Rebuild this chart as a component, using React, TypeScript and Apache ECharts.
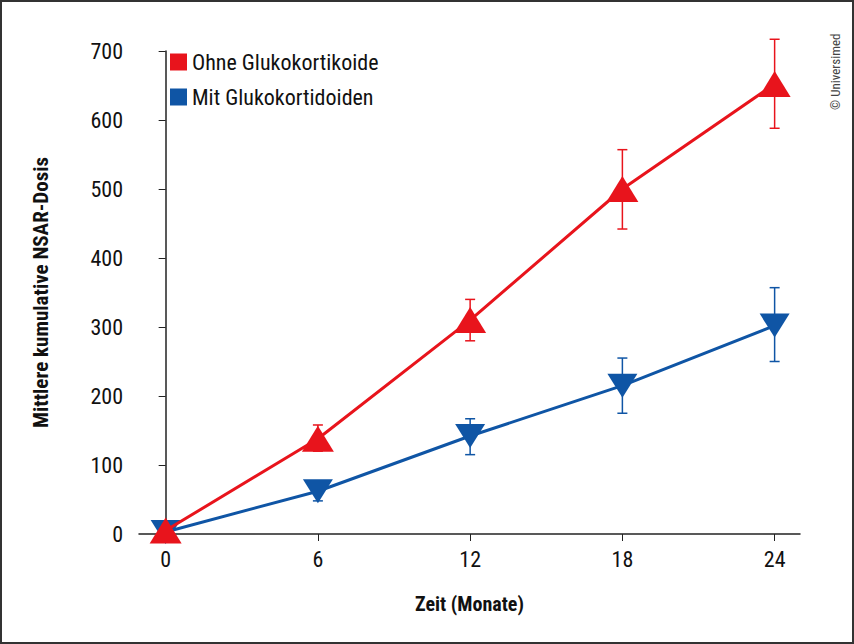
import { useEffect, useRef } from "react";
import * as echarts from "echarts";

const months = [0, 6, 12, 18, 24];
const ohneMean = [5, 138, 310, 500, 652];
const ohneLow = [5, 120, 280, 442, 588];
const ohneHigh = [5, 158, 340, 557, 717];
const mitMean = [3, 62, 142, 215, 302];
const mitLow = [3, 48, 115, 175, 250];
const mitHigh = [3, 77, 167, 255, 357];

const RED = "#e8141c";
const BLUE = "#0f55a5";
const FONT = "'Liberation Sans Narrow', 'Roboto Condensed', 'Arial Narrow', sans-serif";

const errSeries = (low: number[], high: number[], color: string) => ({
  type: "custom",
  z: 1,
  silent: true,
  data: months.map((m, i) => [m, low[i], high[i]]),
  renderItem: (_p: any, api: any) => {
    const lo = api.coord([api.value(0), api.value(1)]);
    const hi = api.coord([api.value(0), api.value(2)]);
    const w = 5;
    const style = { stroke: color, lineWidth: 1.5 };
    return {
      type: "group",
      children: [
        { type: "line", shape: { x1: lo[0], y1: lo[1], x2: hi[0], y2: hi[1] }, style },
        { type: "line", shape: { x1: lo[0] - w, y1: lo[1], x2: lo[0] + w, y2: lo[1] }, style },
        { type: "line", shape: { x1: hi[0] - w, y1: hi[1], x2: hi[0] + w, y2: hi[1] }, style },
      ],
    };
  },
});

export default function App() {
  const ref = useRef<HTMLDivElement | null>(null);

  useEffect(() => {
    if (!ref.current) return;
    const chart = echarts.init(ref.current, null, { renderer: "svg" });
    chart.setOption({
      animation: false,
      textStyle: { fontFamily: FONT },
      grid: { left: 137, right: 52, top: 49, bottom: 108 },
      legend: {
        orient: "vertical",
        left: 163,
        top: 44,
        icon: "rect",
        itemWidth: 17,
        itemHeight: 17,
        itemGap: 13,
        textStyle: { fontSize: 22, color: "#111", fontFamily: FONT },
        data: ["Ohne Glukokortikoide", "Mit Glukokortidoiden"],
      },
      xAxis: {
        type: "value",
        min: -1.05,
        max: 25,
        name: "Zeit (Monate)",
        nameLocation: "middle",
        nameGap: 60,
        nameTextStyle: { fontSize: 20, fontWeight: "bold", color: "#111", fontFamily: FONT },
        splitLine: { show: false },
        axisLine: { lineStyle: { color: "#222", width: 1.5 } },
        axisTick: { customValues: months, length: 7, lineStyle: { color: "#222" } },
        axisLabel: { customValues: months, fontSize: 22, color: "#111", margin: 14 },
      },
      yAxis: {
        type: "value",
        min: 0,
        max: 700,
        interval: 100,
        name: "Mittlere kumulative NSAR-Dosis",
        nameLocation: "middle",
        nameGap: 88,
        nameTextStyle: { fontSize: 21, fontWeight: "bold", color: "#111", fontFamily: FONT },
        splitLine: { show: false },
        axisLine: { show: true, lineStyle: { color: "#222", width: 1.5 } },
        axisTick: { show: true, length: 7, lineStyle: { color: "#222" } },
        axisLabel: { fontSize: 22, color: "#111", margin: 16 },
      },
      graphic: [
        {
          type: "text",
          x: 833,
          y: 108,
          rotation: Math.PI / 2,
          style: { text: "© Universimed", fontSize: 13, fill: "#444", fontFamily: FONT, align: "left", verticalAlign: "middle" },
        },
      ],
      series: [
        errSeries(ohneLow, ohneHigh, RED),
        errSeries(mitLow, mitHigh, BLUE),
        {
          name: "Mit Glukokortidoiden",
          type: "line",
          z: 3,
          data: months.map((m, i) => [m, mitMean[i]]),
          symbol: "triangle",
          symbolRotate: 180,
          symbolSize: [30, 24],
          lineStyle: { color: BLUE, width: 3 },
          itemStyle: { color: BLUE },
        },
        {
          name: "Ohne Glukokortikoide",
          type: "line",
          z: 4,
          data: months.map((m, i) => [m, ohneMean[i]]),
          symbol: "triangle",
          symbolSize: [32, 26],
          lineStyle: { color: RED, width: 3 },
          itemStyle: { color: RED },
        },
      ],
    });
    return () => chart.dispose();
  }, []);

  return (
    <div
      style={{
        position: "absolute",
        left: 0,
        top: 0,
        width: 854,
        height: 644,
        boxSizing: "border-box",
        border: "2px solid #333",
        background: "#fff",
      }}
    >
      <div ref={ref} style={{ width: 850, height: 640 }} />
    </div>
  );
}
